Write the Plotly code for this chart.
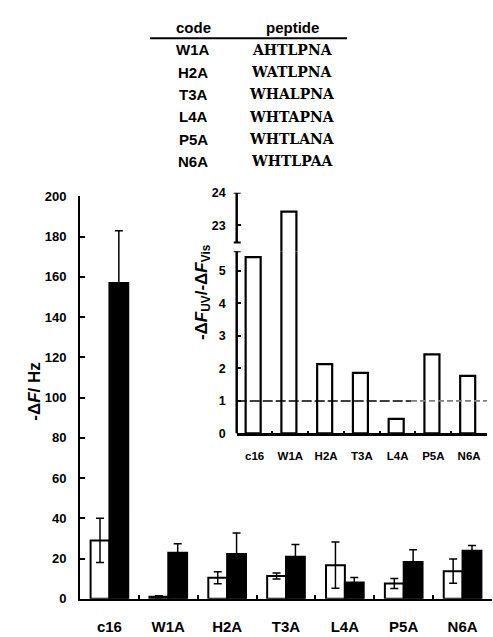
import plotly.graph_objects as go

# ---------------- data ----------------
categories = ['c16', 'W1A', 'H2A', 'T3A', 'L4A', 'P5A', 'N6A']
vis_values = [29, 1, 10.4, 11.3, 16.7, 7.6, 13.7]      # white bars (-ΔF Vis)
vis_errors = [11, 0.5, 3, 1.5, 11.5, 2.5, 6]
uv_values = [157, 22.8, 22.2, 20.9, 8.1, 18.3, 23.9]    # black bars (-ΔF UV)
uv_errors = [26, 4.5, 10.5, 6, 2.5, 6, 2.5]
ratio_values = [5.42, 23.42, 2.13, 1.86, 0.45, 2.43, 1.77]  # inset ΔF_UV/ΔF_Vis

table_codes = ['W1A', 'H2A', 'T3A', 'L4A', 'P5A', 'N6A']
table_peptides = ['AHTLPNA', 'WATLPNA', 'WHALPNA', 'WHTAPNA', 'WHTLANA', 'WHTLPAA']

main_y_ticks = [0, 20, 40, 60, 80, 100, 120, 140, 160, 180, 200]
inset_low_ticks = [0, 1, 2, 3, 4, 5]
inset_high_ticks = [23, 24]

# ---------------- layout helpers ----------------
W, H = 493, 637
def px(x):
    return x / W
def py(y):
    return 1 - y / H

FONT = "Arial, Liberation Sans, sans-serif"
bold = dict(family=FONT, size=12, color="black", weight="bold")

fig = go.Figure()

# main chart bars
fig.add_trace(go.Bar(
    x=categories, y=vis_values, name="Vis",
    marker=dict(color="white", line=dict(color="black", width=2)),
    error_y=dict(type="data", array=vis_errors, color="black", thickness=1.5, width=4),
    xaxis="x", yaxis="y",
))
fig.add_trace(go.Bar(
    x=categories, y=uv_values, name="UV",
    marker=dict(color="black", line=dict(color="black", width=2)),
    error_y=dict(type="data", array=uv_errors, color="black", thickness=1.5, width=4),
    xaxis="x", yaxis="y",
))

# inset bars: lower segment and upper segment (broken axis)
for ya in ("y3", "y4"):
    fig.add_trace(go.Bar(
        x=categories, y=ratio_values,
        marker=dict(color="white", line=dict(color="black", width=2.2)),
        xaxis="x2", yaxis=ya, width=0.42, offset=-0.25,
    ))

main_x0, main_x1 = 80, 492
main_y0, main_y1 = 606, 194
ins_x0, ins_x1 = 236.7, 487
ins_y0 = 436.7
ins_low_top = 250.2
ins_high_top = 190.2
low_range_top = 5.6
px_per_unit = (ins_y0 - ins_low_top) / low_range_top
high_range_bottom = 24 - (ins_low_top - ins_high_top) / px_per_unit

axis_common = dict(showgrid=False, zeroline=False, color="black")

fig.update_layout(
    width=W, height=H,
    margin=dict(l=0, r=0, t=0, b=0),
    paper_bgcolor="white", plot_bgcolor="rgba(0,0,0,0)",
    showlegend=False,
    barmode="group", bargap=0.36, bargroupgap=0,
    font=dict(family=FONT, color="black"),
    xaxis=dict(
        domain=[px(main_x0), px(main_x1)], anchor="y",
        showline=True, linewidth=2, linecolor="black",
        ticks="inside", tickson="boundaries", ticklen=4, tickwidth=2, tickcolor="black",
        tickfont=dict(bold, size=15), ticklabelstandoff=13,
        **axis_common,
    ),
    yaxis=dict(
        domain=[py(main_y0), py(main_y1)], anchor="x",
        range=[0, 200], tickvals=main_y_ticks,
        showline=True, linewidth=2, linecolor="black",
        ticks="inside", ticklen=5, tickwidth=1.5, tickcolor="black",
        tickfont=dict(bold, size=13), ticklabelstandoff=9,
        **axis_common,
    ),
    xaxis2=dict(
        domain=[px(ins_x0), px(ins_x1)], anchor="y3",
        showline=True, linewidth=2.5, linecolor="black",
        ticks="inside", tickson="boundaries", ticklen=3, tickwidth=2, tickcolor="black",
        tickfont=dict(bold, size=11.5), ticklabelstandoff=10,
        **axis_common,
    ),
    yaxis3=dict(
        domain=[py(ins_y0), py(ins_low_top)], anchor="x2",
        range=[0, low_range_top], tickvals=inset_low_ticks,
        showline=False,
        ticks="inside", ticklen=4, tickwidth=1.5, tickcolor="black",
        tickfont=dict(bold, size=12.5), ticklabelstandoff=10,
        **axis_common,
    ),
    yaxis4=dict(
        domain=[py(ins_low_top), py(ins_high_top)], anchor="x2",
        range=[high_range_bottom, 24], tickvals=inset_high_ticks,
        showline=False,
        ticks="inside", ticklen=4, tickwidth=1.5, tickcolor="black",
        tickfont=dict(bold, size=12.5), ticklabelstandoff=10,
        **axis_common,
    ),
)

shapes = []
ax = px(ins_x0)
# broken inset y axis: lower and upper segments
shapes.append(dict(type="line", xref="paper", yref="y3", x0=ax, x1=ax, y0=0, y1=low_range_top,
                   line=dict(color="black", width=2.5)))
shapes.append(dict(type="line", xref="paper", yref="y4", x0=ax, x1=ax, y0=22.47, y1=24,
                   line=dict(color="black", width=2.5)))
# caps at break
for ref, yv in (("y3", low_range_top), ("y4", 22.47), ("y4", 24)):
    shapes.append(dict(type="line", xref="paper", yref=ref, x0=px(ins_x0 - 3), x1=px(ins_x0 + 4),
                       y0=yv, y1=yv, line=dict(color="black", width=2)))
# dashed reference line at ratio = 1
shapes.append(dict(type="line", xref="paper", yref="y3", x0=ax, x1=px(411), y0=1, y1=1,
                   line=dict(color="black", width=1.5, dash="10px,3px")))
shapes.append(dict(type="line", xref="paper", yref="y3", x0=px(411), x1=px(ins_x1), y0=1, y1=1,
                   line=dict(color="#808080", width=1.8, dash="6px,3px")))
# table rule
shapes.append(dict(type="line", xref="paper", yref="paper", x0=px(150), x1=px(347),
                   y0=py(32), y1=py(32), line=dict(color="black", width=2)))
fig.update_layout(shapes=shapes)

annotations = []
# table
code_x, pep_x = 193, 292
annotations.append(dict(text="code", x=px(code_x), y=py(21), xref="paper", yref="paper",
                        showarrow=False, font=dict(bold, size=15), xanchor="center", yanchor="middle"))
annotations.append(dict(text="peptide", x=px(pep_x), y=py(21), xref="paper", yref="paper",
                        showarrow=False, font=dict(bold, size=15), xanchor="center", yanchor="middle"))
row_y0, row_dy = 44, 22.8
for i, (c, p) in enumerate(zip(table_codes, table_peptides)):
    yy = row_y0 + i * row_dy
    annotations.append(dict(text=c, x=px(code_x), y=py(yy), xref="paper", yref="paper",
                            showarrow=False, font=dict(bold, size=15), xanchor="center", yanchor="middle"))
    annotations.append(dict(text=p, x=px(pep_x), y=py(yy), xref="paper", yref="paper",
                            showarrow=False,
                            font=dict(family="DejaVu Serif, serif", size=14, color="black", weight="bold"),
                            xanchor="center", yanchor="middle"))
# axis titles
annotations.append(dict(text="-Δ<i>F</i>/ Hz", x=px(35), y=py(394), xref="paper", yref="paper",
                        showarrow=False, textangle=-90, font=dict(bold, size=17),
                        xanchor="center", yanchor="middle"))
annotations.append(dict(text="-Δ<i>F</i><sub>UV</sub>/-Δ<i>F</i><sub>Vis</sub>", x=px(203), y=py(292),
                        xref="paper", yref="paper", showarrow=False, textangle=-90,
                        font=dict(bold, size=17), xanchor="center", yanchor="middle"))
fig.update_layout(annotations=annotations)

fig.write_html("out.html")
